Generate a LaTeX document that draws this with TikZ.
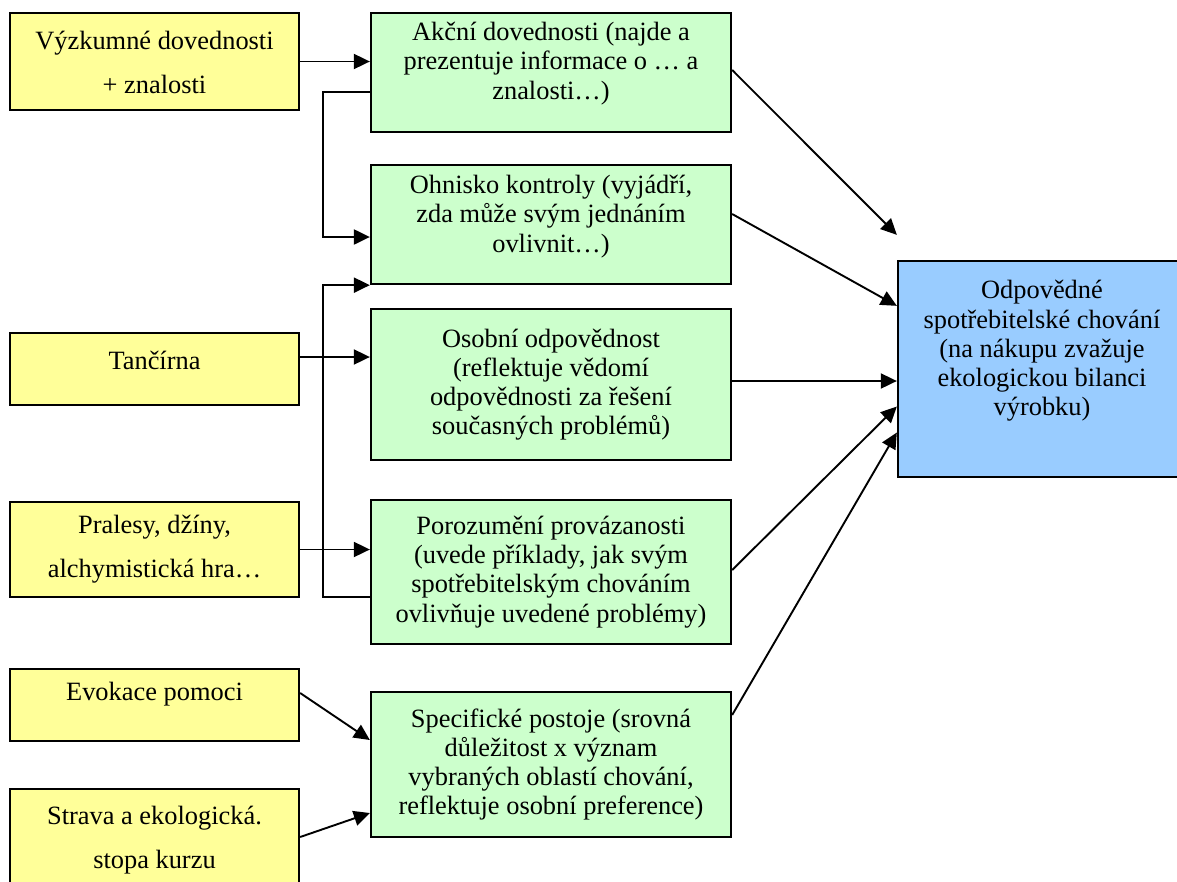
\documentclass[tikz,border=0pt]{standalone}
\usepackage{fontspec}
\setmainfont{Liberation Serif}
\usetikzlibrary{arrows.meta,calc}
\definecolor{ybg}{HTML}{FFFF99}
\definecolor{gbg}{HTML}{CCFFCC}
\definecolor{bbg}{HTML}{99CCFF}
\tikzset{
  box/.style={draw=black, line width=2.3pt, inner sep=0pt, rectangle},
  ybox/.style={box, fill=ybg, minimum width=289pt},
  gbox/.style={box, fill=gbg, minimum width=360pt},
  bbox/.style={box, fill=bbg, minimum width=288pt},
  ytext/.style={align=center, font=\fontsize{26.4}{43.8}\selectfont, inner sep=0pt},
  gtext/.style={align=center, font=\fontsize{26.4}{29.2}\selectfont, inner sep=0pt},
  arr/.style={line width=1.9pt, -{Triangle[length=16pt,width=15pt]}},
  link/.style={arr, line width=2.2pt},
}
\begin{document}
\begin{tikzpicture}[x=1pt, y=-1pt]
\useasboundingbox (0,0) rectangle (1177,881);

% sources (yellow)
\node[ybox, minimum height=97pt,
  label={[ytext, yshift=-1pt]center:{Výzkumné dovednosti\\+ znalosti}}] (y1) at (154.5,61.5) {};
\node[ybox, minimum height=72pt,
  label={[ytext, yshift=9pt]center:{Tančírna}}] (y2) at (154.5,369) {};
\node[ybox, minimum height=95pt,
  label={[ytext]center:{Pralesy, džíny,\\alchymistická hra…}}] (y3) at (154.5,549.5) {};
\node[ybox, minimum height=72pt,
  label={[ytext, yshift=11pt]center:{Evokace pomoci}}] (y4) at (154.5,705) {};
\node[ybox, minimum height=101pt,
  label={[ytext, yshift=-1pt]center:{Strava a ekologická.\\stopa kurzu}}] (y5) at (154.5,839.5) {};

% competences (green)
\node[gbox, minimum height=119pt,
  label={[gtext, yshift=9pt]center:{Akční dovednosti (najde a\\prezentuje informace o … a\\znalosti…)}}] (g1) at (551,72.5) {};
\node[gbox, minimum height=119pt,
  label={[gtext, yshift=8pt]center:{Ohnisko kontroly (vyjádří,\\zda může svým jednáním\\ovlivnit…)}}] (g2) at (551,224.5) {};
\node[gbox, minimum height=151pt,
  label={[gtext]center:{Osobní odpovědnost\\(reflektuje vědomí\\odpovědnosti za řešení\\současných problémů)}}] (g3) at (551,384.5) {};
\node[gbox, minimum height=144pt,
  label={[gtext]center:{Porozumění provázanosti\\(uvede příklady, jak svým\\spotřebitelským chováním\\ovlivňuje uvedené problémy)}}] (g4) at (551,572) {};
\node[gbox, minimum height=145pt,
  label={[gtext, yshift=0pt]center:{Specifické postoje (srovná\\důležitost x význam\\vybraných oblastí chování,\\reflektuje osobní preference)}}] (g5) at (551,764.5) {};

% goal (blue)
\node[bbox, minimum height=216pt,
  label={[gtext, yshift=18pt]center:{Odpovědné\\spotřebitelské chování\\(na nákupu zvažuje\\ekologickou bilanci\\výrobku)}}] (goal) at (1042,369) {};

% sources -> competences
\draw[arr] (y1.east) -- (y1.east -| g1.west);
\draw[arr] ([yshift=12pt]y2.east) -- ([yshift=12pt]y2.east -| g3.west);
\draw[arr] (y3.east) -- (y3.east -| g4.west);
\draw[arr] ([yshift=12pt]y4.east) -- ([yshift=24.5pt]g5.west);
\draw[arr] ([yshift=2.5pt]y5.east) -- ([yshift=-48.5pt]g5.west);

% brackets feeding the locus of control
\coordinate (k1) at (323,92);
\coordinate (k2) at (323,237);
\coordinate (k3) at (323,597);
\draw[link] (g1.west |- k1) -- (k1) -- (k2) -- (k2 -| g2.west);
\draw[link] (g4.west |- k3) -- (k3) -- (k3 |- g2.south) -- (g2.south west);

% competences -> goal
\draw[arr] ([yshift=2.5pt]g1.east) -- ([yshift=25pt]goal.north west);
\draw[arr] ([yshift=10.5pt]g2.east) -- ([yshift=-46pt]goal.north west);
\draw[arr] ([yshift=3.5pt]g3.east) -- ([yshift=3.5pt]g3.east -| goal.west);
\draw[arr] ([yshift=2pt]g4.east) -- ([yshift=-37.5pt]goal.west);
\draw[arr] ([yshift=49.5pt]g5.east) -- ([yshift=-63.5pt]goal.west);
\end{tikzpicture}
\end{document}
